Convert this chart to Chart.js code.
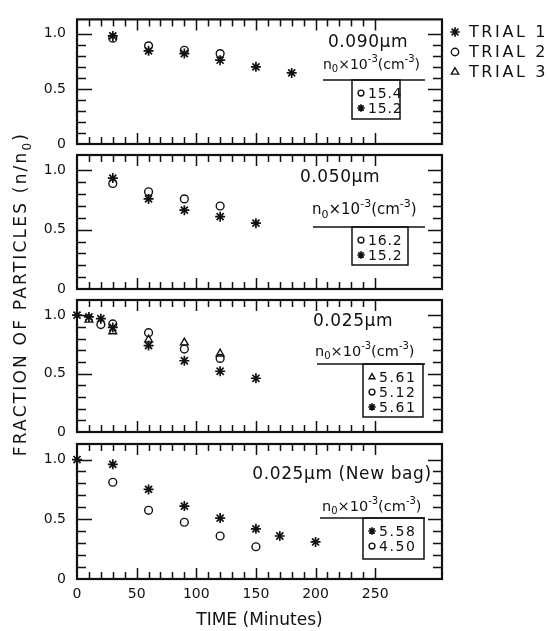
<!DOCTYPE html>
<html>
<head>
<meta charset="utf-8">
<title>Fraction of particles vs time</title>
<script src="https://cdn.jsdelivr.net/npm/chart.js@4.4.1/dist/chart.umd.min.js"></script>
<style>
    html, body { margin: 0; padding: 0; background: #fff; }
    #wrap { position: relative; width: 550px; height: 631px; }
    #wrap canvas { position: absolute; left: 0; top: 0; }
</style>
</head>
<body>
<div id="wrap">
    <canvas id="panel-0" width="550" height="631"></canvas>
    <canvas id="panel-1" width="550" height="631"></canvas>
    <canvas id="panel-2" width="550" height="631"></canvas>
    <canvas id="panel-3" width="550" height="631"></canvas>
</div>
<script>
'use strict';

// Tick labels (time in minutes, fraction n/n0)
const X_TICKS = [0, 50, 100, 150, 200, 250];
const Y_TICKS = [0, 0.5, 1.0];
const TRIALS = ['TRIAL 1', 'TRIAL 2', 'TRIAL 3'];
const PANEL_LABELS = ['0.090\u03BCm', '0.050\u03BCm', '0.025\u03BCm', '0.025\u03BCm (New bag)'];

// 0.090 um
const T090_TRIAL1 = [30, 60, 90, 120, 150, 180];
const F090_TRIAL1 = [0.98, 0.845, 0.82, 0.76, 0.70, 0.645];
const T090_TRIAL2 = [30, 60, 90, 120];
const F090_TRIAL2 = [0.96, 0.89, 0.85, 0.82];
const N0_090 = ['15.4', '15.2'];
const N0_090_MARKS = ['circle', 'star'];

// 0.050 um
const T050_TRIAL1 = [30, 60, 90, 120, 150];
const F050_TRIAL1 = [0.935, 0.76, 0.665, 0.61, 0.555];
const T050_TRIAL2 = [30, 60, 90, 120];
const F050_TRIAL2 = [0.89, 0.82, 0.76, 0.70];
const N0_050 = ['16.2', '15.2'];
const N0_050_MARKS = ['circle', 'star'];

// 0.025 um
const T025_TRIAL1 = [0, 10, 20, 30, 60, 90, 120, 150];
const F025_TRIAL1 = [1.0, 0.985, 0.97, 0.895, 0.74, 0.61, 0.52, 0.46];
const T025_TRIAL2 = [20, 30, 60, 90, 120];
const F025_TRIAL2 = [0.92, 0.925, 0.85, 0.71, 0.63];
const T025_TRIAL3 = [10, 30, 60, 90, 120];
const F025_TRIAL3 = [0.96, 0.86, 0.79, 0.765, 0.67];
const N0_025 = ['5.61', '5.12', '5.61'];
const N0_025_MARKS = ['triangle', 'circle', 'star'];

// 0.025 um, new bag
const T025N_TRIAL1 = [0, 30, 60, 90, 120, 150, 170, 200];
const F025N_TRIAL1 = [1.0, 0.96, 0.75, 0.61, 0.51, 0.42, 0.36, 0.31];
const T025N_TRIAL2 = [30, 60, 90, 120, 150];
const F025N_TRIAL2 = [0.81, 0.575, 0.475, 0.36, 0.27];
const N0_025N = ['5.58', '4.50'];
const N0_025N_MARKS = ['star', 'circle'];

const INK = '#111';
const FONT = '"DejaVu Sans", sans-serif';
const X_MAX = 306;
const Y_MAX = 1.13;
const PLOT_LEFT = 77;
const PLOT_RIGHT = 442;
const Y_AXIS_W = 40;

const MARKERS = {
    star: { pointStyle: 'star', radius: 5, borderWidth: 1.7 },
    circle: { pointStyle: 'circle', radius: 3.9, borderWidth: 1.4 },
    triangle: { pointStyle: 'triangle', radius: 4.5, borderWidth: 1.4 }
};

// Layout of each panel: plot box, size label, n0 header, key box
const PANELS = [
    {
        label: PANEL_LABELS[0],
        series: [
            { marker: 'star', x: T090_TRIAL1, y: F090_TRIAL1 },
            { marker: 'circle', x: T090_TRIAL2, y: F090_TRIAL2 }
        ],
        n0: N0_090, marks: N0_090_MARKS,
        top: 13, bottom: 144,
        title: [368, 43], header: [323, 65], headerSize: 14,
        rule: [323, 425, 80], key: [352, 80, 48, 39]
    },
    {
        label: PANEL_LABELS[1],
        series: [
            { marker: 'star', x: T050_TRIAL1, y: F050_TRIAL1 },
            { marker: 'circle', x: T050_TRIAL2, y: F050_TRIAL2 }
        ],
        n0: N0_050, marks: N0_050_MARKS,
        top: 155, bottom: 289,
        title: [340, 178], header: [312, 210], headerSize: 15,
        rule: [313, 425, 227], key: [352, 227, 56, 38]
    },
    {
        label: PANEL_LABELS[2],
        series: [
            { marker: 'star', x: T025_TRIAL1, y: F025_TRIAL1 },
            { marker: 'circle', x: T025_TRIAL2, y: F025_TRIAL2 },
            { marker: 'triangle', x: T025_TRIAL3, y: F025_TRIAL3 }
        ],
        n0: N0_025, marks: N0_025_MARKS,
        top: 300, bottom: 432,
        title: [353, 322], header: [315, 352], headerSize: 14.5,
        rule: [317, 425, 364], key: [363, 364, 60, 53]
    },
    {
        label: PANEL_LABELS[3],
        series: [
            { marker: 'star', x: T025N_TRIAL1, y: F025N_TRIAL1 },
            { marker: 'circle', x: T025N_TRIAL2, y: F025N_TRIAL2 }
        ],
        n0: N0_025N, marks: N0_025N_MARKS,
        top: 444, bottom: 579,
        title: [342, 475], header: [322, 507], headerSize: 14.5,
        rule: [320, 425, 518], key: [363, 518, 61, 41]
    }
];

const HEADER_PARTS = [['n', ''], ['0', 'sub'], ['\u00D710', ''], ['-3', 'sup'], ['(cm', ''], ['-3', 'sup'], [')', '']];
const Y_TITLE_PARTS = [['FRACTION OF PARTICLES (n/n', ''], ['0', 'sub'], [')', '']];

/**
 * Set canvas letter spacing where supported
 */
function setSpacing(ctx, px) {
    if ('letterSpacing' in ctx) {
        ctx.letterSpacing = px + 'px';
    }
}

/**
 * Width of a run of text with sub/superscripts
 */
function measureRich(ctx, parts, size) {
    let w = 0;
    parts.forEach(function(p) {
        const s = p[1] ? Math.round(size * 0.7) : size;
        ctx.font = s + 'px ' + FONT;
        w += ctx.measureText(p[0]).width;
    });
    return w;
}

/**
 * Draw text with sub/superscripts, left aligned, vertically centred on y
 */
function drawRich(ctx, x, y, parts, size) {
    let cx = x;
    ctx.textAlign = 'left';
    ctx.textBaseline = 'middle';
    parts.forEach(function(p) {
        const s = p[1] ? Math.round(size * 0.7) : size;
        const dy = p[1] === 'sub' ? size * 0.32 : (p[1] === 'sup' ? -size * 0.38 : 0);
        ctx.font = s + 'px ' + FONT;
        ctx.fillText(p[0], cx, y + dy);
        cx += ctx.measureText(p[0]).width;
    });
}

function drawMarker(ctx, name, x, y, scale) {
    const m = MARKERS[name];
    ctx.save();
    ctx.strokeStyle = INK;
    ctx.fillStyle = 'rgba(0,0,0,0)';
    ctx.lineWidth = m.borderWidth;
    Chart.helpers.drawPoint(ctx, {
        pointStyle: m.pointStyle,
        radius: m.radius * scale,
        rotation: 0,
        borderWidth: m.borderWidth
    }, x, y);
    ctx.restore();
}

/**
 * Frame with inward ticks on all four sides
 */
function drawFrame(chart) {
    const ctx = chart.ctx;
    const a = chart.chartArea;
    const xs = chart.scales.x;
    const ys = chart.scales.y;

    ctx.save();
    ctx.strokeStyle = INK;
    ctx.lineWidth = 1.5;
    ctx.beginPath();
    for (let t = 10; t <= 250; t += 10) {
        const px = Math.round(xs.getPixelForValue(t)) + 0.5;
        const len = t % 50 === 0 ? 11 : 7;
        ctx.moveTo(px, a.top);
        ctx.lineTo(px, a.top + len);
        ctx.moveTo(px, a.bottom);
        ctx.lineTo(px, a.bottom - len);
    }
    for (let i = 1; i <= 10; i++) {
        const py = Math.round(ys.getPixelForValue(i / 10)) + 0.5;
        const major = i % 5 === 0;
        ctx.moveTo(a.left, py);
        ctx.lineTo(a.left + (major ? 15 : 9), py);
        ctx.moveTo(a.right, py);
        ctx.lineTo(a.right - (major ? 14 : 9), py);
    }
    ctx.stroke();
    ctx.lineWidth = 2.2;
    ctx.strokeRect(a.left, a.top, a.right - a.left, a.bottom - a.top);
    ctx.restore();
}

/**
 * Size label, n0 header and key box inside a panel
 */
function drawPanelNotes(chart, panel) {
    const ctx = chart.ctx;
    ctx.save();
    ctx.fillStyle = INK;
    ctx.strokeStyle = INK;

    setSpacing(ctx, 0.6);
    ctx.font = '17px ' + FONT;
    ctx.textAlign = 'center';
    ctx.textBaseline = 'middle';
    ctx.fillText(panel.label, panel.title[0], panel.title[1]);

    setSpacing(ctx, 0);
    drawRich(ctx, panel.header[0], panel.header[1], HEADER_PARTS, panel.headerSize);

    ctx.lineWidth = 1.5;
    ctx.beginPath();
    ctx.moveTo(panel.rule[0], panel.rule[2]);
    ctx.lineTo(panel.rule[1], panel.rule[2]);
    ctx.stroke();

    const k = panel.key;
    ctx.strokeRect(k[0], k[1], k[2], k[3]);
    ctx.font = '14px ' + FONT;
    ctx.textAlign = 'left';
    ctx.textBaseline = 'middle';
    setSpacing(ctx, k[2] > 56 ? 1.6 : 0.8);
    panel.n0.forEach(function(value, i) {
        const y = k[1] + 13 + i * 15;
        drawMarker(ctx, panel.marks[i], k[0] + 9, y, 0.75);
        ctx.fillText(value, k[0] + 16, y + 1);
    });
    ctx.restore();
}

/**
 * Shared y title and trial legend (drawn once, on the first panel)
 */
function drawSharedText(chart) {
    const ctx = chart.ctx;
    ctx.save();
    ctx.fillStyle = INK;

    setSpacing(ctx, 2.2);
    ctx.translate(22, 294);
    ctx.rotate(-Math.PI / 2);
    const w = measureRich(ctx, Y_TITLE_PARTS, 17);
    drawRich(ctx, -w / 2, 0, Y_TITLE_PARTS, 17);
    ctx.setTransform(1, 0, 0, 1, 0, 0);

    const marks = ['star', 'circle', 'triangle'];
    setSpacing(ctx, 2.6);
    ctx.font = '16px ' + FONT;
    ctx.textAlign = 'left';
    ctx.textBaseline = 'middle';
    TRIALS.forEach(function(label, i) {
        const y = 32 + i * 20;
        drawMarker(ctx, marks[i], 455, y, 0.95);
        ctx.fillText(label, 469, y + 1);
    });
    ctx.restore();
}

function makePanelPlugin(panel, index) {
    return {
        id: 'panelNotes' + index,
        beforeDatasetsDraw: function(chart) {
            drawFrame(chart);
        },
        afterDatasetsDraw: function(chart) {
            drawPanelNotes(chart, panel);
            if (index === 0) {
                drawSharedText(chart);
            }
        }
    };
}

function buildPanel(panel, index) {
    const isLast = index === PANELS.length - 1;
    const xAxisH = isLast ? 631 - panel.bottom : 0;

    const datasets = panel.series.map(function(s) {
        const m = MARKERS[s.marker];
        return {
            data: s.x.map(function(t, i) { return { x: t, y: s.y[i] }; }),
            pointStyle: m.pointStyle,
            pointRadius: m.radius,
            pointBorderWidth: m.borderWidth,
            pointBorderColor: INK,
            pointBackgroundColor: 'rgba(0,0,0,0)',
            showLine: false,
            clip: false
        };
    });

    new Chart(document.getElementById('panel-' + index), {
        type: 'scatter',
        data: { datasets: datasets },
        options: {
            responsive: false,
            animation: false,
            events: [],
            layout: {
                padding: {
                    left: PLOT_LEFT - Y_AXIS_W,
                    right: 550 - PLOT_RIGHT,
                    top: panel.top,
                    bottom: isLast ? 0 : 631 - panel.bottom
                }
            },
            plugins: {
                legend: { display: false },
                tooltip: { enabled: false }
            },
            scales: {
                x: {
                    type: 'linear',
                    min: 0,
                    max: X_MAX,
                    display: isLast,
                    afterBuildTicks: function(scale) {
                        scale.ticks = X_TICKS.map(function(v) { return { value: v }; });
                    },
                    afterFit: function(scale) {
                        scale.height = xAxisH;
                    },
                    grid: { display: false, drawTicks: false },
                    border: { display: false },
                    ticks: {
                        color: INK,
                        font: { family: FONT, size: 14 },
                        padding: 7,
                        maxRotation: 0,
                        autoSkip: false
                    },
                    title: {
                        display: true,
                        text: 'TIME (Minutes)',
                        color: INK,
                        font: { family: FONT, size: 17 },
                        padding: { top: 0, bottom: 0 }
                    }
                },
                y: {
                    min: 0,
                    max: Y_MAX,
                    afterBuildTicks: function(scale) {
                        scale.ticks = Y_TICKS.map(function(v) { return { value: v }; });
                    },
                    afterFit: function(scale) {
                        scale.width = Y_AXIS_W;
                    },
                    grid: { display: false, drawTicks: false },
                    border: { display: false },
                    ticks: {
                        color: INK,
                        font: { family: FONT, size: 14 },
                        padding: 11,
                        callback: function(value) {
                            return value === 0 ? '0' : value.toFixed(1);
                        }
                    }
                }
            }
        },
        plugins: [makePanelPlugin(panel, index)]
    });
}

PANELS.forEach(buildPanel);
</script>
</body>
</html>
